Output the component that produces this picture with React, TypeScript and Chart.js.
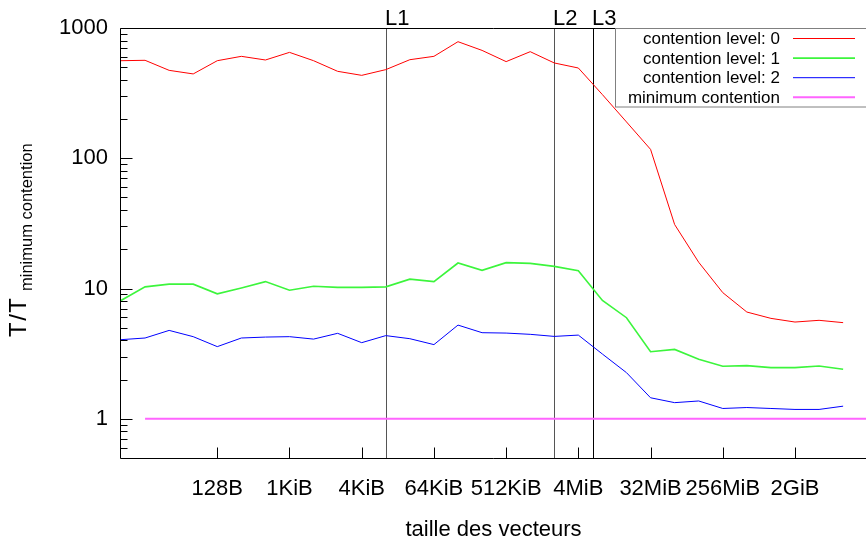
import React, { useEffect, useRef } from "react";
import { Chart, registerables } from "chart.js";

Chart.register(...registerables);

// ---- data (x = index of the measured vector size) ----
const contention0 = [561, 565, 473, 444, 561, 606, 568, 650, 561, 465, 433, 479, 571, 606, 785, 673, 552, 658, 539, 493, 308, 190, 117, 31, 15.9, 9.3, 6.6, 5.9, 5.53, 5.7, 5.47];
const contention1 = [8.1, 10.3, 10.8, 10.8, 9.1, 10.1, 11.3, 9.7, 10.4, 10.2, 10.2, 10.3, 11.8, 11.3, 15.7, 13.8, 15.8, 15.6, 14.8, 13.7, 8.1, 5.97, 3.27, 3.41, 2.86, 2.53, 2.56, 2.47, 2.47, 2.54, 2.4];
const contention2 = [4.05, 4.17, 4.77, 4.27, 3.58, 4.17, 4.24, 4.27, 4.09, 4.53, 3.84, 4.35, 4.12, 3.71, 5.24, 4.58, 4.55, 4.45, 4.29, 4.39, 3.14, 2.26, 1.45, 1.33, 1.37, 1.2, 1.22, 1.2, 1.18, 1.18, 1.25];
const minimumContention = [null, 1, 1, 1, 1, 1, 1, 1, 1, 1, 1, 1, 1, 1, 1, 1, 1, 1, 1, 1, 1, 1, 1, 1, 1, 1, 1, 1, 1, 1, 1, 1];

const seriesLabels = ["contention level: 0", "contention level: 1", "contention level: 2", "minimum contention"];
const seriesColors = ["rgb(255,0,0)", "rgb(60,245,60)", "rgb(0,0,255)", "rgb(255,100,255)"];
const seriesWidths = [1, 1.6, 1, 2];

const xTickPositions = [4, 7, 10, 13, 16, 19, 22, 25, 28];
const xTickLabels = ["128B", "1KiB", "4KiB", "64KiB", "512KiB", "4MiB", "32MiB", "256MiB", "2GiB"];
const yTickValues = [1, 10, 100, 1000];
const yMinorTickValues = [0.6, 0.7, 0.8, 0.9, 2, 3, 4, 5, 6, 7, 8, 9, 20, 30, 40, 50, 60, 70, 80, 90, 200, 300, 400, 500, 600, 700, 800, 900];

const cacheLabels = ["L1", "L2", "L3"];
const cachePositions = [11, 18, 19.6];
const cacheColors = ["#555555", "#555555", "#000000"];

const FONT = "'Liberation Sans', Arial, Helvetica, sans-serif";

const decorPlugin = {
  id: "gnuplotDecor",
  beforeDatasetsDraw(chart: any) {
    const { ctx, chartArea } = chart;
    const xs = chart.scales.x;
    ctx.save();
    cachePositions.forEach((p, i) => {
      const x = Math.round(xs.getPixelForValue(p)) + 0.5;
      ctx.strokeStyle = cacheColors[i];
      ctx.lineWidth = 1;
      ctx.beginPath();
      ctx.moveTo(x, chartArea.top);
      ctx.lineTo(x, chartArea.bottom);
      ctx.stroke();
      ctx.fillStyle = "#000";
      ctx.font = `22px ${FONT}`;
      ctx.textAlign = "left";
      ctx.textBaseline = "alphabetic";
      ctx.fillText(cacheLabels[i], x - 1.5, 25);
    });
    ctx.restore();
  },
  afterDraw(chart: any) {
    const { ctx, chartArea } = chart;
    const xs = chart.scales.x;
    const ys = chart.scales.y;
    const L = Math.round(chartArea.left) - 0.5;
    const T = Math.round(chartArea.top) + 0.5;
    const B = Math.round(chartArea.bottom) + 0.5;
    const R = chart.width + 2;
    ctx.save();
    ctx.strokeStyle = "#000";
    ctx.lineWidth = 1;
    ctx.beginPath();
    ctx.moveTo(L, T);
    ctx.lineTo(R, T);
    ctx.moveTo(L, T);
    ctx.lineTo(L, B);
    ctx.lineTo(R, B);
    ctx.stroke();
    // y ticks (inward)
    ctx.beginPath();
    yTickValues.forEach((v) => {
      const y = Math.round(ys.getPixelForValue(v)) + 0.5;
      ctx.moveTo(L, y);
      ctx.lineTo(L + 12, y);
    });
    yMinorTickValues.forEach((v) => {
      const y = Math.round(ys.getPixelForValue(v)) + 0.5;
      ctx.moveTo(L, y);
      ctx.lineTo(L + 7, y);
    });
    // x ticks (inward)
    xTickPositions.forEach((p) => {
      const x = Math.round(xs.getPixelForValue(p)) + 0.5;
      ctx.moveTo(x, B);
      ctx.lineTo(x, B - 11);
    });
    ctx.stroke();

    // legend
    const boxX = 615.5;
    const boxY = T;
    ctx.fillStyle = "#fff";
    ctx.fillRect(boxX, boxY, 300, 78.5);
    ctx.strokeStyle = "#808080";
    ctx.strokeRect(boxX, boxY, 300, 78.5);
    ctx.font = `17px ${FONT}`;
    ctx.textAlign = "right";
    ctx.textBaseline = "middle";
    seriesLabels.forEach((lab, i) => {
      const y = 38.5 + i * 19.6;
      ctx.fillStyle = "#000";
      ctx.fillText(lab, 780, y + 1);
      ctx.strokeStyle = seriesColors[i];
      ctx.lineWidth = seriesWidths[i];
      ctx.beginPath();
      ctx.moveTo(793, y);
      ctx.lineTo(855, y);
      ctx.stroke();
    });

    // y title with subscript
    ctx.fillStyle = "#000";
    ctx.translate(26, 337);
    ctx.rotate(-Math.PI / 2);
    ctx.textAlign = "left";
    ctx.textBaseline = "alphabetic";
    ctx.font = `24px ${FONT}`;
    (ctx as any).letterSpacing = "1.5px";
    ctx.fillText("T/T", 0, 0);
    (ctx as any).letterSpacing = "0px";
    ctx.font = `16.5px ${FONT}`;
    ctx.fillText("minimum contention", 46, 6);
    ctx.restore();
  },
};

export default function App() {
  const ref = useRef<HTMLCanvasElement>(null);
  useEffect(() => {
    if (!ref.current) return;
    Chart.defaults.font.family = FONT;
    Chart.defaults.color = "#000";
    const series = [contention0, contention1, contention2, minimumContention];
    const chart = new Chart(ref.current, {
      type: "line",
      data: {
        datasets: series.map((vals, i) => ({
          label: seriesLabels[i],
          data: vals.map((v, k) => ({ x: k, y: v })),
          borderColor: seriesColors[i],
          backgroundColor: seriesColors[i],
          borderWidth: seriesWidths[i],
          pointRadius: 0,
          tension: 0,
          fill: false,
          spanGaps: false,
        })),
      },
      options: {
        animation: false,
        responsive: false,
        events: [],
        layout: { padding: { top: 28, left: 0, right: 0, bottom: 0 } },
        plugins: { legend: { display: false }, tooltip: { enabled: false } },
        scales: {
          x: {
            type: "linear",
            min: 0,
            max: 30.95,
            afterBuildTicks: (s: any) => {
              s.ticks = xTickPositions.map((v) => ({ value: v }));
            },
            afterFit: (s: any) => {
              s.height = 82;
            },
            ticks: {
              autoSkip: false,
              maxRotation: 0,
              minRotation: 0,
              padding: 18,
              color: "#000",
              font: { size: 22, family: FONT },
              callback: (v: any) => {
                const idx = xTickPositions.indexOf(Number(v));
                return idx >= 0 ? xTickLabels[idx] : "";
              },
            },
            grid: { display: false, drawTicks: false },
            border: { display: false },
            title: {
              display: true,
              text: "taille des vecteurs",
              color: "#000",
              font: { size: 22, family: FONT, lineHeight: 0.95 },
              padding: { top: 0, bottom: 0 },
            },
          },
          y: {
            type: "logarithmic",
            min: 0.5,
            max: 1000,
            afterBuildTicks: (s: any) => {
              s.ticks = yTickValues.map((v) => ({ value: v }));
            },
            afterFit: (s: any) => {
              s.width = 121;
            },
            ticks: {
              padding: 13,
              color: "#000",
              font: { size: 22, family: FONT },
              callback: (v: any) => String(v),
            },
            grid: { display: false, drawTicks: false },
            border: { display: false },
          },
        },
      },
      plugins: [decorPlugin],
    } as any);
    return () => chart.destroy();
  }, []);
  return (
    <div style={{ position: "fixed", left: 0, top: 0, width: 866, height: 540, background: "#fff" }}>
      <canvas ref={ref} width={866} height={540} style={{ display: "block", width: 866, height: 540 }} />
    </div>
  );
}
